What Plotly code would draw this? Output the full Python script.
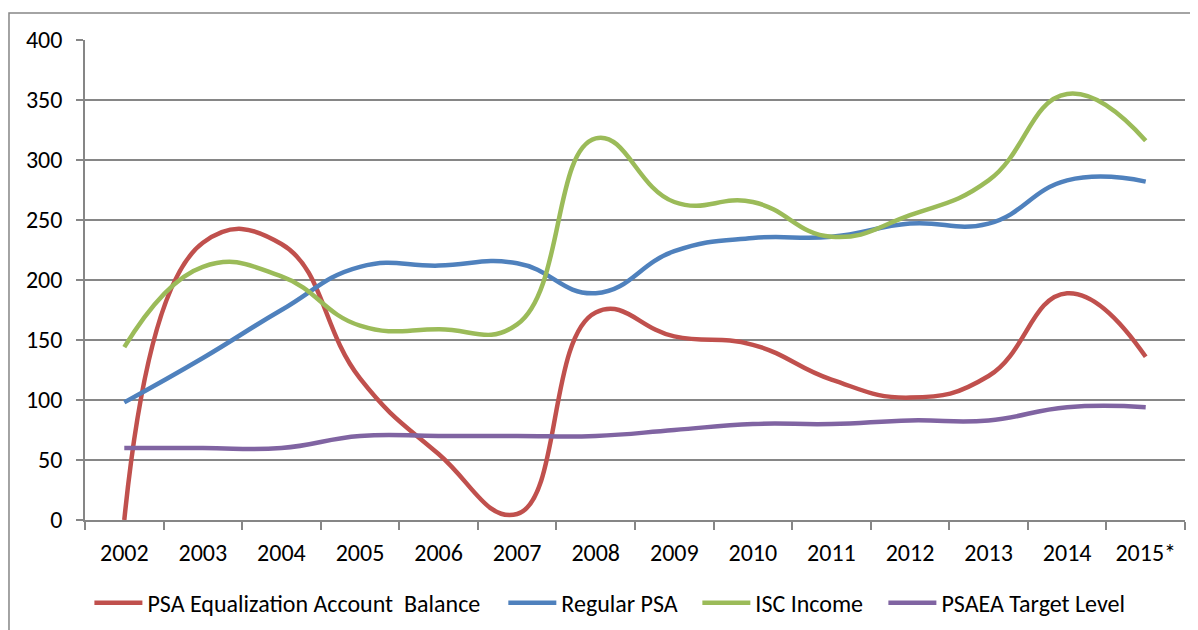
import plotly.graph_objects as go

years = ["2002", "2003", "2004", "2005", "2006", "2007", "2008",
         "2009", "2010", "2011", "2012", "2013", "2014", "2015*"]

psa_eq_balance = [0, 231, 230, 118, 55, 5, 173, 153, 146, 117, 102, 120, 189, 136]
regular_psa = [98, 135, 175, 211, 212, 214, 189, 224, 235, 236, 247, 247, 283, 282]
isc_income = [144, 211, 203, 162, 159, 163, 318, 265, 265, 236, 254, 283, 355, 316]
psaea_target = [60, 60, 60, 70, 70, 70, 70, 75, 80, 80, 83, 83, 94, 94]

series = [
    ("PSA Equalization Account \u00a0Balance", psa_eq_balance, "#C0504D"),
    ("Regular PSA", regular_psa, "#4F81BD"),
    ("ISC Income", isc_income, "#9BBB59"),
    ("PSAEA Target Level", psaea_target, "#8064A2"),
]

FONT = "Carlito, Lato, sans-serif"
GRID = "#868686"
FS = 24

# paper-x positions of each legend entry (one legend per series)
legend_x = [0.0040, 0.3803, 0.5567, 0.7258]
legend_ids = ["legend", "legend2", "legend3", "legend4"]

fig = go.Figure()
for (name, vals, color), lid in zip(series, legend_ids):
    fig.add_trace(go.Scatter(
        x=years, y=vals, name=name, mode="lines", legend=lid,
        line=dict(color=color, width=4.5, shape="spline", smoothing=1.3),
    ))

legend_common = dict(orientation="h", xanchor="left", y=-0.173, yanchor="middle",
                     font=dict(family=FONT, size=FS, color="black"),
                     itemwidth=48, tracegroupgap=0, bgcolor="rgba(0,0,0,0)")

# page body has an 8px margin, so the figure is offset by (8, 8)
fig.update_layout(
    width=1190, height=622,
    margin=dict(l=77, r=13, t=32, b=110, autoexpand=False),
    paper_bgcolor="white", plot_bgcolor="white",
    font=dict(family=FONT, size=FS, color="black"),
    showlegend=True,
    xaxis=dict(type="category", range=[-0.5, len(years) - 0.5],
               showgrid=False, showline=True, automargin=False,
               linecolor=GRID, linewidth=1.5,
               ticks="outside", ticklen=8, tickcolor=GRID, tickwidth=1.5,
               tickson="boundaries", ticklabelstandoff=10,
               tickfont=dict(family=FONT, size=FS, color="black"),
               fixedrange=True),
    yaxis=dict(range=[0, 400], dtick=50, tick0=0, automargin=False,
               showgrid=True, gridcolor=GRID, gridwidth=1.5,
               zeroline=False, showline=True, linecolor=GRID, linewidth=1.5,
               ticks="outside", ticklen=7, tickcolor=GRID, tickwidth=1.5,
               ticklabelstandoff=9,
               tickfont=dict(family=FONT, size=FS, color="black"),
               fixedrange=True),
)
for lid, lx in zip(legend_ids, legend_x):
    fig.update_layout({lid: dict(x=lx, **legend_common)})

# outer chart border (extends beyond the visible picture on right/bottom)
fig.add_shape(type="rect", xref="paper", yref="paper",
              x0=-0.0691, x1=1.02, y0=-0.25, y1=1.05625,
              line=dict(color=GRID, width=1.5), fillcolor="rgba(0,0,0,0)",
              layer="below")

fig.write_html("out.html")
